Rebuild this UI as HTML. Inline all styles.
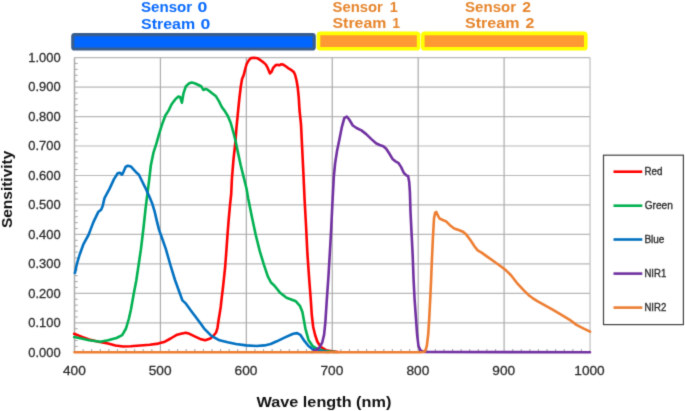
<!DOCTYPE html>
<html><head><meta charset="utf-8"><style>
html,body{margin:0;padding:0;background:#fff;}
svg{display:block;}
text{font-family:"Liberation Sans",sans-serif;}
</style></head><body>
<svg width="685" height="411" viewBox="0 0 685 411">
<defs><filter id="bl" x="0" y="0" width="685" height="411" filterUnits="userSpaceOnUse" color-interpolation-filters="sRGB"><feConvolveMatrix order="3" kernelMatrix="0.0169 0.0962 0.0169 0.0962 0.5476 0.0962 0.0169 0.0962 0.0169" edgeMode="duplicate"/></filter></defs>
<g filter="url(#bl)">
<rect width="685" height="411" fill="#fff"/>
<text transform="translate(141.05,11.96) scale(1.0822,1)" font-size="13.94" font-weight="bold" fill="#0A6BFF">Sensor</text><text transform="translate(197.59,12.06) scale(1.2414,1)" font-size="14.23" font-weight="bold" fill="#0A6BFF">0</text><text transform="translate(141.02,28.96) scale(1.1226,1)" font-size="14.23" font-weight="bold" fill="#0A6BFF">Stream</text><text transform="translate(200.39,29.05) scale(1.2173,1)" font-size="14.51" font-weight="bold" fill="#0A6BFF">0</text><text transform="translate(332.55,11.66) scale(1.0544,1)" font-size="14.08" font-weight="bold" fill="#E6852C">Sensor</text><text transform="translate(389.73,11.70) scale(0.9983,1)" font-size="14.49" font-weight="bold" fill="#E6852C">1</text><text transform="translate(332.52,28.26) scale(1.1053,1)" font-size="14.37" font-weight="bold" fill="#E6852C">Stream</text><text transform="translate(392.36,28.30) scale(0.9499,1)" font-size="14.78" font-weight="bold" fill="#E6852C">1</text><text transform="translate(465.05,11.66) scale(1.0693,1)" font-size="14.08" font-weight="bold" fill="#E6852C">Sensor</text><text transform="translate(522.33,11.70) scale(1.1000,1)" font-size="14.29" font-weight="bold" fill="#E6852C">2</text><text transform="translate(465.02,28.26) scale(1.1179,1)" font-size="14.37" font-weight="bold" fill="#E6852C">Stream</text><text transform="translate(525.42,28.30) scale(1.0924,1)" font-size="14.57" font-weight="bold" fill="#E6852C">2</text>
<rect x="72.8" y="34.6" width="241.4" height="14.4" rx="1.8" fill="#0066FF" stroke="#385D8C" stroke-width="3.2"/>
<rect x="318.5" y="33.4" width="100.1" height="15.3" rx="1.8" fill="#FF9933" stroke="#FFFF00" stroke-width="3.6"/>
<rect x="422.8" y="33.4" width="163.0" height="15.3" rx="1.8" fill="#FF9933" stroke="#FFFF00" stroke-width="3.6"/>
<g stroke="#C8C8C8" stroke-width="1.2">
<line x1="74.5" y1="322.83" x2="590" y2="322.83" stroke="#B8B8B8"/><line x1="74.5" y1="293.36" x2="590" y2="293.36" stroke="#B8B8B8"/><line x1="74.5" y1="263.89" x2="590" y2="263.89" stroke="#B8B8B8"/><line x1="74.5" y1="234.42" x2="590" y2="234.42" stroke="#B8B8B8"/><line x1="74.5" y1="204.95" x2="590" y2="204.95" stroke="#B8B8B8"/><line x1="74.5" y1="175.48" x2="590" y2="175.48" stroke="#B8B8B8"/><line x1="74.5" y1="146.01" x2="590" y2="146.01" stroke="#B8B8B8"/><line x1="74.5" y1="116.54" x2="590" y2="116.54" stroke="#B8B8B8"/><line x1="74.5" y1="87.07" x2="590" y2="87.07" stroke="#B8B8B8"/><line x1="74.5" y1="57.60" x2="590" y2="57.60" stroke="#B8B8B8"/><line x1="160.42" y1="57.60" x2="160.42" y2="352.3" stroke="#ABABAB"/><line x1="246.34" y1="57.60" x2="246.34" y2="352.3" stroke="#ABABAB"/><line x1="332.26" y1="57.60" x2="332.26" y2="352.3" stroke="#ABABAB"/><line x1="418.18" y1="57.60" x2="418.18" y2="352.3" stroke="#ABABAB"/><line x1="504.10" y1="57.60" x2="504.10" y2="352.3" stroke="#ABABAB"/><line x1="590.02" y1="57.60" x2="590.02" y2="352.3" stroke="#BEBEBE"/>
</g>
<g stroke="#A8A8A8" stroke-width="1.1">
<line x1="74.5" y1="346.41" x2="77.70" y2="346.41"/><line x1="74.5" y1="340.51" x2="77.70" y2="340.51"/><line x1="74.5" y1="334.62" x2="77.70" y2="334.62"/><line x1="74.5" y1="328.72" x2="77.70" y2="328.72"/><line x1="74.5" y1="316.94" x2="77.70" y2="316.94"/><line x1="74.5" y1="311.04" x2="77.70" y2="311.04"/><line x1="74.5" y1="305.15" x2="77.70" y2="305.15"/><line x1="74.5" y1="299.25" x2="77.70" y2="299.25"/><line x1="74.5" y1="287.47" x2="77.70" y2="287.47"/><line x1="74.5" y1="281.57" x2="77.70" y2="281.57"/><line x1="74.5" y1="275.68" x2="77.70" y2="275.68"/><line x1="74.5" y1="269.78" x2="77.70" y2="269.78"/><line x1="74.5" y1="258.00" x2="77.70" y2="258.00"/><line x1="74.5" y1="252.10" x2="77.70" y2="252.10"/><line x1="74.5" y1="246.21" x2="77.70" y2="246.21"/><line x1="74.5" y1="240.31" x2="77.70" y2="240.31"/><line x1="74.5" y1="228.53" x2="77.70" y2="228.53"/><line x1="74.5" y1="222.63" x2="77.70" y2="222.63"/><line x1="74.5" y1="216.74" x2="77.70" y2="216.74"/><line x1="74.5" y1="210.84" x2="77.70" y2="210.84"/><line x1="74.5" y1="199.06" x2="77.70" y2="199.06"/><line x1="74.5" y1="193.16" x2="77.70" y2="193.16"/><line x1="74.5" y1="187.27" x2="77.70" y2="187.27"/><line x1="74.5" y1="181.37" x2="77.70" y2="181.37"/><line x1="74.5" y1="169.59" x2="77.70" y2="169.59"/><line x1="74.5" y1="163.69" x2="77.70" y2="163.69"/><line x1="74.5" y1="157.80" x2="77.70" y2="157.80"/><line x1="74.5" y1="151.90" x2="77.70" y2="151.90"/><line x1="74.5" y1="140.12" x2="77.70" y2="140.12"/><line x1="74.5" y1="134.22" x2="77.70" y2="134.22"/><line x1="74.5" y1="128.33" x2="77.70" y2="128.33"/><line x1="74.5" y1="122.43" x2="77.70" y2="122.43"/><line x1="74.5" y1="110.65" x2="77.70" y2="110.65"/><line x1="74.5" y1="104.75" x2="77.70" y2="104.75"/><line x1="74.5" y1="98.86" x2="77.70" y2="98.86"/><line x1="74.5" y1="92.96" x2="77.70" y2="92.96"/><line x1="74.5" y1="81.18" x2="77.70" y2="81.18"/><line x1="74.5" y1="75.28" x2="77.70" y2="75.28"/><line x1="74.5" y1="69.39" x2="77.70" y2="69.39"/><line x1="74.5" y1="63.49" x2="77.70" y2="63.49"/><line x1="83.09" y1="352.3" x2="83.09" y2="349.10"/><line x1="91.68" y1="352.3" x2="91.68" y2="349.10"/><line x1="100.28" y1="352.3" x2="100.28" y2="349.10"/><line x1="108.87" y1="352.3" x2="108.87" y2="349.10"/><line x1="117.46" y1="352.3" x2="117.46" y2="349.10"/><line x1="126.05" y1="352.3" x2="126.05" y2="349.10"/><line x1="134.64" y1="352.3" x2="134.64" y2="349.10"/><line x1="143.24" y1="352.3" x2="143.24" y2="349.10"/><line x1="151.83" y1="352.3" x2="151.83" y2="349.10"/><line x1="169.01" y1="352.3" x2="169.01" y2="349.10"/><line x1="177.60" y1="352.3" x2="177.60" y2="349.10"/><line x1="186.20" y1="352.3" x2="186.20" y2="349.10"/><line x1="194.79" y1="352.3" x2="194.79" y2="349.10"/><line x1="203.38" y1="352.3" x2="203.38" y2="349.10"/><line x1="211.97" y1="352.3" x2="211.97" y2="349.10"/><line x1="220.56" y1="352.3" x2="220.56" y2="349.10"/><line x1="229.16" y1="352.3" x2="229.16" y2="349.10"/><line x1="237.75" y1="352.3" x2="237.75" y2="349.10"/><line x1="254.93" y1="352.3" x2="254.93" y2="349.10"/><line x1="263.52" y1="352.3" x2="263.52" y2="349.10"/><line x1="272.12" y1="352.3" x2="272.12" y2="349.10"/><line x1="280.71" y1="352.3" x2="280.71" y2="349.10"/><line x1="289.30" y1="352.3" x2="289.30" y2="349.10"/><line x1="297.89" y1="352.3" x2="297.89" y2="349.10"/><line x1="306.48" y1="352.3" x2="306.48" y2="349.10"/><line x1="315.08" y1="352.3" x2="315.08" y2="349.10"/><line x1="323.67" y1="352.3" x2="323.67" y2="349.10"/><line x1="340.85" y1="352.3" x2="340.85" y2="349.10"/><line x1="349.44" y1="352.3" x2="349.44" y2="349.10"/><line x1="358.04" y1="352.3" x2="358.04" y2="349.10"/><line x1="366.63" y1="352.3" x2="366.63" y2="349.10"/><line x1="375.22" y1="352.3" x2="375.22" y2="349.10"/><line x1="383.81" y1="352.3" x2="383.81" y2="349.10"/><line x1="392.40" y1="352.3" x2="392.40" y2="349.10"/><line x1="401.00" y1="352.3" x2="401.00" y2="349.10"/><line x1="409.59" y1="352.3" x2="409.59" y2="349.10"/><line x1="426.77" y1="352.3" x2="426.77" y2="349.10"/><line x1="435.36" y1="352.3" x2="435.36" y2="349.10"/><line x1="443.96" y1="352.3" x2="443.96" y2="349.10"/><line x1="452.55" y1="352.3" x2="452.55" y2="349.10"/><line x1="461.14" y1="352.3" x2="461.14" y2="349.10"/><line x1="469.73" y1="352.3" x2="469.73" y2="349.10"/><line x1="478.32" y1="352.3" x2="478.32" y2="349.10"/><line x1="486.92" y1="352.3" x2="486.92" y2="349.10"/><line x1="495.51" y1="352.3" x2="495.51" y2="349.10"/><line x1="512.69" y1="352.3" x2="512.69" y2="349.10"/><line x1="521.28" y1="352.3" x2="521.28" y2="349.10"/><line x1="529.88" y1="352.3" x2="529.88" y2="349.10"/><line x1="538.47" y1="352.3" x2="538.47" y2="349.10"/><line x1="547.06" y1="352.3" x2="547.06" y2="349.10"/><line x1="555.65" y1="352.3" x2="555.65" y2="349.10"/><line x1="564.24" y1="352.3" x2="564.24" y2="349.10"/><line x1="572.84" y1="352.3" x2="572.84" y2="349.10"/><line x1="581.43" y1="352.3" x2="581.43" y2="349.10"/>
</g>
<line x1="74.5" y1="57.60" x2="74.5" y2="352.3" stroke="#AAAAAA" stroke-width="1.5"/>
<g fill="none" stroke-width="2.6" stroke-linejoin="round" stroke-linecap="round">
<path d="M74.2,333.8 L81.4,336.6 L89.0,339.5 L98.5,341.7 L108.0,343.6 L115.5,345.5 L123.1,346.5 L130.7,346.3 L140.2,345.5 L149.7,344.8 L158.2,343.6 L164.9,341.7 L170.6,338.5 L176.3,335.1 L181.0,333.8 L185.8,332.8 L189.5,333.8 L195.2,336.6 L200.1,338.9 L205.2,340.3 L210.3,338.6 L213.2,336.0 L216.1,332.5 L217.5,327.8 L218.6,320.0 L219.7,313.5 L220.7,307.0 L221.7,297.8 L222.8,289.1 L223.9,278.9 L225.1,267.5 L226.1,254.5 L227.3,237.6 L228.6,220.6 L230.0,205.2 L231.2,194.0 L231.9,178.8 L233.5,159.4 L235.4,141.9 L236.4,128.4 L238.2,110.0 L239.4,98.2 L240.8,86.5 L242.0,79.2 L243.8,74.8 L245.2,69.0 L246.7,63.9 L248.9,60.2 L251.1,58.0 L254.0,57.8 L257.6,58.3 L260.5,60.2 L263.5,62.4 L265.9,64.6 L267.8,68.2 L270.0,73.4 L271.5,71.9 L273.2,67.8 L275.9,65.0 L278.1,64.9 L279.5,65.3 L281.0,64.2 L283.2,64.6 L286.1,66.5 L289.0,68.7 L291.9,70.4 L293.7,71.9 L295.1,74.8 L296.6,80.7 L297.8,88.0 L298.8,98.2 L299.5,110.0 L301.0,124.4 L302.2,148.8 L303.4,173.2 L304.6,200.0 L306.1,226.8 L307.4,253.7 L309.3,280.5 L310.8,300.0 L311.8,315.0 L313.2,327.0 L315.1,335.0 L317.5,342.0 L321.0,347.2 L326.0,350.2 L332.0,351.3 L338.0,352.0" stroke="#FF0000"/>
<path d="M74.2,337.0 L81.4,338.5 L89.0,340.2 L100.4,341.7 L108.0,340.2 L116.5,338.0 L122.2,335.1 L126.0,328.5 L128.8,319.0 L131.0,309.3 L133.7,294.1 L136.3,280.5 L138.6,265.0 L140.9,249.4 L142.3,238.0 L143.6,227.0 L145.5,209.2 L147.3,194.6 L149.2,179.6 L150.9,165.0 L153.4,152.9 L156.5,143.2 L158.9,134.7 L161.9,124.9 L165.5,115.2 L168.7,110.4 L171.6,104.3 L175.2,99.4 L178.4,96.5 L180.1,97.0 L181.9,102.7 L183.5,93.3 L185.8,86.5 L188.8,83.6 L191.7,82.6 L194.6,83.2 L198.5,85.0 L201.4,86.5 L203.3,90.0 L205.3,89.1 L207.2,89.5 L211.1,92.4 L216.0,96.3 L218.9,101.1 L221.8,107.0 L224.7,110.9 L227.7,115.7 L230.6,122.5 L233.4,132.3 L235.8,142.0 L237.8,151.7 L240.7,165.2 L243.6,176.9 L246.5,188.5 L248.2,198.5 L251.7,216.1 L255.7,234.8 L259.7,250.9 L263.8,264.3 L267.8,276.3 L271.0,282.5 L274.5,285.7 L279.8,292.4 L286.5,297.8 L291.9,299.7 L295.9,301.3 L299.9,305.8 L302.4,312.0 L305.4,328.6 L308.5,339.9 L312.6,346.0 L317.7,349.1 L323.8,350.7 L330.0,351.6 L336.0,352.0" stroke="#00B050"/>
<path d="M74.9,273.0 L76.8,264.2 L79.7,254.5 L83.6,243.8 L88.5,235.0 L93.3,222.4 L98.2,212.1 L101.1,209.7 L102.6,206.2 L104.5,198.1 L109.6,188.6 L114.0,179.1 L117.7,173.3 L119.9,172.8 L122.0,174.7 L123.5,171.8 L125.7,166.7 L127.9,165.7 L130.8,166.4 L133.7,169.6 L136.7,172.8 L138.9,174.7 L141.6,180.3 L145.1,187.3 L148.8,195.3 L152.4,204.1 L154.6,211.4 L156.8,220.9 L159.0,229.6 L161.9,237.7 L165.8,248.9 L170.4,265.0 L175.0,280.0 L179.6,292.7 L182.4,300.4 L185.4,303.1 L192.3,312.4 L195.0,316.0 L199.1,321.5 L204.2,328.6 L211.4,335.8 L219.5,340.3 L227.7,342.3 L235.9,344.0 L246.1,345.4 L256.3,346.0 L264.5,345.4 L270.7,344.0 L276.8,341.3 L285.0,337.4 L293.2,333.7 L297.2,333.1 L300.3,334.8 L304.4,340.9 L308.5,346.0 L312.6,349.1 L317.7,350.7 L321.8,351.4 L328.0,352.0" stroke="#0070C0"/>
<path d="M312.0,352.0 L315.1,350.8 L319.7,347.4 L322.3,342.3 L324.1,334.6 L325.4,321.8 L326.7,301.3 L328.5,275.6 L330.0,250.0 L331.1,230.5 L332.4,203.7 L333.8,176.8 L335.1,163.4 L337.0,151.1 L339.5,138.9 L341.9,126.8 L344.3,118.2 L346.8,116.5 L349.2,119.5 L352.8,125.5 L356.5,128.0 L361.4,130.4 L366.2,134.1 L371.1,138.9 L376.0,143.3 L379.6,145.0 L383.3,146.2 L386.2,148.7 L389.3,153.5 L392.5,158.9 L395.4,161.3 L398.3,162.8 L401.0,166.9 L403.9,173.0 L406.4,175.4 L408.1,175.9 L409.2,182.0 L409.9,192.0 L410.5,211.9 L411.6,233.9 L412.7,255.8 L413.6,280.0 L414.6,299.5 L416.0,318.9 L417.1,334.5 L418.5,346.1 L420.4,350.4 L424.3,352.0 L590.0,352.2" stroke="#7030A0"/>
<path d="M74.5,352.3 L421.4,352.3 L424.9,351.6 L426.8,346.1 L428.2,334.5 L429.2,318.9 L430.2,299.5 L431.1,280.0 L431.8,262.4 L432.9,238.2 L434.0,218.5 L435.1,213.0 L436.2,211.9 L437.7,215.2 L439.5,218.5 L442.8,220.0 L446.1,221.4 L449.9,225.2 L454.2,228.5 L458.6,230.0 L463.0,231.8 L466.3,234.6 L470.7,240.5 L474.6,246.5 L477.7,250.4 L481.6,252.6 L488.2,257.4 L494.8,262.0 L501.4,266.8 L505.8,270.1 L511.0,275.2 L516.8,282.8 L523.6,290.1 L528.7,295.2 L532.2,297.8 L537.3,301.2 L544.1,304.9 L552.6,309.7 L561.1,314.7 L569.7,319.8 L576.5,324.9 L583.3,328.3 L590.1,331.7" stroke="#ED7D31"/>
</g>
<text transform="translate(28.26,356.68) scale(1.0561,1)" font-size="12.25" font-weight="normal" fill="#2A2A2A" stroke="#2A2A2A" stroke-width="0.25">0.000</text><text transform="translate(28.26,327.21) scale(1.0561,1)" font-size="12.25" font-weight="normal" fill="#2A2A2A" stroke="#2A2A2A" stroke-width="0.25">0.100</text><text transform="translate(28.26,297.74) scale(1.0561,1)" font-size="12.25" font-weight="normal" fill="#2A2A2A" stroke="#2A2A2A" stroke-width="0.25">0.200</text><text transform="translate(28.26,268.27) scale(1.0561,1)" font-size="12.25" font-weight="normal" fill="#2A2A2A" stroke="#2A2A2A" stroke-width="0.25">0.300</text><text transform="translate(28.26,238.80) scale(1.0561,1)" font-size="12.25" font-weight="normal" fill="#2A2A2A" stroke="#2A2A2A" stroke-width="0.25">0.400</text><text transform="translate(28.26,209.33) scale(1.0561,1)" font-size="12.25" font-weight="normal" fill="#2A2A2A" stroke="#2A2A2A" stroke-width="0.25">0.500</text><text transform="translate(28.26,179.86) scale(1.0561,1)" font-size="12.25" font-weight="normal" fill="#2A2A2A" stroke="#2A2A2A" stroke-width="0.25">0.600</text><text transform="translate(28.26,150.39) scale(1.0561,1)" font-size="12.25" font-weight="normal" fill="#2A2A2A" stroke="#2A2A2A" stroke-width="0.25">0.700</text><text transform="translate(28.26,120.92) scale(1.0561,1)" font-size="12.25" font-weight="normal" fill="#2A2A2A" stroke="#2A2A2A" stroke-width="0.25">0.800</text><text transform="translate(28.26,91.45) scale(1.0561,1)" font-size="12.25" font-weight="normal" fill="#2A2A2A" stroke="#2A2A2A" stroke-width="0.25">0.900</text><text transform="translate(28.26,61.98) scale(1.0561,1)" font-size="12.25" font-weight="normal" fill="#2A2A2A" stroke="#2A2A2A" stroke-width="0.25">1.000</text>
<text transform="translate(62.93,374.67) scale(1.0901,1)" font-size="12.54" font-weight="normal" fill="#2A2A2A" stroke="#2A2A2A" stroke-width="0.25">400</text><text transform="translate(148.71,374.67) scale(1.0901,1)" font-size="12.54" font-weight="normal" fill="#2A2A2A" stroke="#2A2A2A" stroke-width="0.25">500</text><text transform="translate(234.56,374.67) scale(1.0901,1)" font-size="12.54" font-weight="normal" fill="#2A2A2A" stroke="#2A2A2A" stroke-width="0.25">600</text><text transform="translate(320.48,374.67) scale(1.0901,1)" font-size="12.54" font-weight="normal" fill="#2A2A2A" stroke="#2A2A2A" stroke-width="0.25">700</text><text transform="translate(406.47,374.67) scale(1.0901,1)" font-size="12.54" font-weight="normal" fill="#2A2A2A" stroke="#2A2A2A" stroke-width="0.25">800</text><text transform="translate(492.32,374.67) scale(1.0901,1)" font-size="12.54" font-weight="normal" fill="#2A2A2A" stroke="#2A2A2A" stroke-width="0.25">900</text><text transform="translate(574.28,374.67) scale(1.0901,1)" font-size="12.54" font-weight="normal" fill="#2A2A2A" stroke="#2A2A2A" stroke-width="0.25">1000</text>
<text transform="translate(256.50,406.67) scale(1.0922,1)" font-size="14.89" font-weight="bold" fill="#111111">Wave length (nm)</text>
<text transform="translate(12.0,228.06) rotate(-90) scale(1.0974,1)" font-size="14.11" font-weight="bold" fill="#111111">Sensitivity</text>
<rect x="603.5" y="155.2" width="79.9" height="169.4" fill="none" stroke="#404040" stroke-width="1.2"/>
<line x1="613.5" y1="171.7" x2="642.3" y2="171.7" stroke="#FF0000" stroke-width="2.6"/><text transform="translate(644.42,174.80) scale(0.8982,1)" font-size="10.87" fill="#2A2A2A" stroke="#2A2A2A" stroke-width="0.35">Red</text><line x1="613.5" y1="205.7" x2="642.3" y2="205.7" stroke="#00B050" stroke-width="2.6"/><text transform="translate(644.69,208.80) scale(0.9338,1)" font-size="10.87" fill="#2A2A2A" stroke="#2A2A2A" stroke-width="0.35">Green</text><line x1="613.5" y1="239.5" x2="642.3" y2="239.5" stroke="#0070C0" stroke-width="2.6"/><text transform="translate(644.40,242.60) scale(0.9200,1)" font-size="10.87" fill="#2A2A2A" stroke="#2A2A2A" stroke-width="0.35">Blue</text><line x1="613.5" y1="273.6" x2="642.3" y2="273.6" stroke="#7030A0" stroke-width="2.6"/><text transform="translate(644.43,276.70) scale(0.8815,1)" font-size="10.87" fill="#2A2A2A" stroke="#2A2A2A" stroke-width="0.35">NIR1</text><line x1="613.5" y1="307.6" x2="642.3" y2="307.6" stroke="#ED7D31" stroke-width="2.6"/><text transform="translate(644.43,310.70) scale(0.8815,1)" font-size="10.87" fill="#2A2A2A" stroke="#2A2A2A" stroke-width="0.35">NIR2</text>
</g>
</svg>
</body></html>
